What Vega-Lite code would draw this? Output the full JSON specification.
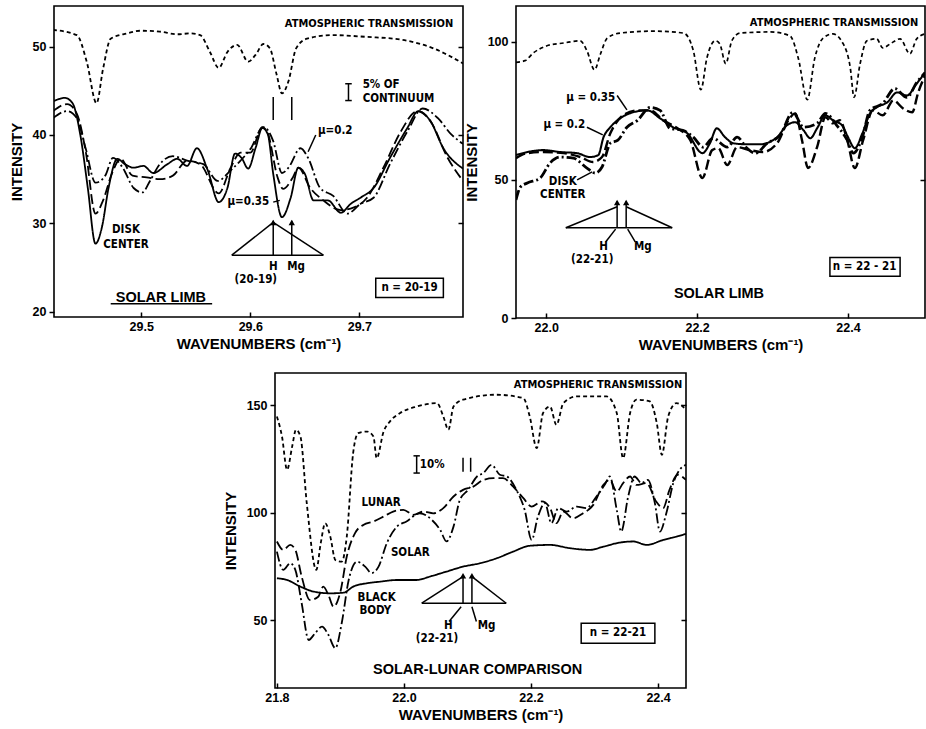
{
"$schema": "https://vega.github.io/schema/vega-lite/v6.json",
"padding": {"left": 8, "top": 5, "right": 0, "bottom": 0},
"background": "white",
"bounds": "flush",
"spacing": 367,
"resolve": {"scale": {"strokeDash": "independent", "strokeWidth": "independent"}},
"config": {
  "view": {"stroke": "black", "strokeWidth": 1.6},
  "axis": {"grid": false, "domain": false, "labelFont": "Liberation Sans", "labelFontSize": 12.5, "labelFontWeight": "bold", "labelColor": "black", "titleFont": "Liberation Sans", "titleFontSize": 15, "titleFontWeight": "bold", "titleColor": "black", "tickColor": "black", "tickWidth": 1.5}
},
"vconcat": [
 {"hconcat": [
  {
   "width": 409, "height": 311,
   "data": {"values": [{"x":0,"y":0}]},
   "encoding": {
     "x": {"field": "x", "type": "quantitative", "scale": {"domain": [29.42, 29.795], "nice": false, "zero": false}, "axis": {"values": [29.5, 29.6, 29.7], "format": ".1f", "tickSize": -5, "labelPadding": 8, "title": "WAVENUMBERS (cm⁻¹)", "titlePadding": 4}},
     "y": {"field": "y", "type": "quantitative", "scale": {"domain": [19.4, 54.6], "nice": false, "zero": false}, "axis": null}
   },
   "resolve": {"axis": {"y": "independent"}},
   "layer": [
    {
     "data": {"values": [
      {"s":"atm","x":29.419,"y":51.9},{"s":"atm","x":29.441,"y":51.3},{"s":"atm","x":29.450,"y":48.3},{"s":"atm","x":29.459,"y":43.6},{"s":"atm","x":29.465,"y":47.5},{"s":"atm","x":29.472,"y":50.9},{"s":"atm","x":29.487,"y":51.5},{"s":"atm","x":29.499,"y":51.8},{"s":"atm","x":29.517,"y":51.7},{"s":"atm","x":29.533,"y":51.4},{"s":"atm","x":29.545,"y":51.5},{"s":"atm","x":29.554,"y":51.3},{"s":"atm","x":29.563,"y":49.4},{"s":"atm","x":29.571,"y":47.6},{"s":"atm","x":29.579,"y":49.4},{"s":"atm","x":29.588,"y":50.2},{"s":"atm","x":29.598,"y":48.3},{"s":"atm","x":29.605,"y":49.1},{"s":"atm","x":29.612,"y":50.3},{"s":"atm","x":29.618,"y":49.8},{"s":"atm","x":29.624,"y":46.9},{"s":"atm","x":29.629,"y":44.7},{"s":"atm","x":29.635,"y":46.1},{"s":"atm","x":29.642,"y":49.8},{"s":"atm","x":29.652,"y":50.9},{"s":"atm","x":29.676,"y":51.3},{"s":"atm","x":29.707,"y":51.1},{"s":"atm","x":29.738,"y":50.8},{"s":"atm","x":29.768,"y":49.8},{"s":"atm","x":29.795,"y":48.1},
      {"s":"disk","x":29.419,"y":43.8},{"s":"disk","x":29.430,"y":44.2},{"s":"disk","x":29.437,"y":43.6},{"s":"disk","x":29.444,"y":40.1},{"s":"disk","x":29.451,"y":34.0},{"s":"disk","x":29.458,"y":27.7},{"s":"disk","x":29.464,"y":29.6},{"s":"disk","x":29.470,"y":34.0},{"s":"disk","x":29.478,"y":37.3},{"s":"disk","x":29.485,"y":36.7},{"s":"disk","x":29.493,"y":36.3},{"s":"disk","x":29.502,"y":36.5},{"s":"disk","x":29.511,"y":35.7},{"s":"disk","x":29.524,"y":36.7},{"s":"disk","x":29.533,"y":37.3},{"s":"disk","x":29.542,"y":36.5},{"s":"disk","x":29.551,"y":38.5},{"s":"disk","x":29.561,"y":36.0},{"s":"disk","x":29.571,"y":32.4},{"s":"disk","x":29.579,"y":34.0},{"s":"disk","x":29.586,"y":37.9},{"s":"disk","x":29.592,"y":37.4},{"s":"disk","x":29.598,"y":36.2},{"s":"disk","x":29.605,"y":38.6},{"s":"disk","x":29.611,"y":40.8},{"s":"disk","x":29.616,"y":40.1},{"s":"disk","x":29.621,"y":35.6},{"s":"disk","x":29.629,"y":30.7},{"s":"disk","x":29.637,"y":32.9},{"s":"disk","x":29.644,"y":36.3},{"s":"disk","x":29.650,"y":35.6},{"s":"disk","x":29.658,"y":32.6},{"s":"disk","x":29.671,"y":32.6},{"s":"disk","x":29.683,"y":31.2},{"s":"disk","x":29.692,"y":32.2},{"s":"disk","x":29.701,"y":32.9},{"s":"disk","x":29.713,"y":34.0},{"s":"disk","x":29.728,"y":37.4},{"s":"disk","x":29.744,"y":40.8},{"s":"disk","x":29.754,"y":42.7},{"s":"disk","x":29.765,"y":41.6},{"s":"disk","x":29.777,"y":38.5},{"s":"disk","x":29.795,"y":36.2},
      {"s":"mu035","x":29.419,"y":42.7},{"s":"mu035","x":29.432,"y":43.5},{"s":"mu035","x":29.441,"y":42.4},{"s":"mu035","x":29.449,"y":38.2},{"s":"mu035","x":29.458,"y":31.1},{"s":"mu035","x":29.465,"y":32.6},{"s":"mu035","x":29.473,"y":35.6},{"s":"mu035","x":29.481,"y":37.3},{"s":"mu035","x":29.492,"y":35.4},{"s":"mu035","x":29.505,"y":35.2},{"s":"mu035","x":29.517,"y":35.0},{"s":"mu035","x":29.529,"y":35.4},{"s":"mu035","x":29.542,"y":37.1},{"s":"mu035","x":29.554,"y":36.7},{"s":"mu035","x":29.571,"y":33.4},{"s":"mu035","x":29.582,"y":36.3},{"s":"mu035","x":29.591,"y":38.0},{"s":"mu035","x":29.600,"y":38.0},{"s":"mu035","x":29.611,"y":40.9},{"s":"mu035","x":29.616,"y":40.2},{"s":"mu035","x":29.625,"y":35.2},{"s":"mu035","x":29.630,"y":33.9},{"s":"mu035","x":29.639,"y":35.2},{"s":"mu035","x":29.644,"y":36.3},{"s":"mu035","x":29.655,"y":34.0},{"s":"mu035","x":29.667,"y":32.6},{"s":"mu035","x":29.683,"y":31.5},{"s":"mu035","x":29.695,"y":31.8},{"s":"mu035","x":29.707,"y":32.9},{"s":"mu035","x":29.722,"y":36.3},{"s":"mu035","x":29.738,"y":40.4},{"s":"mu035","x":29.753,"y":42.7},{"s":"mu035","x":29.765,"y":41.6},{"s":"mu035","x":29.781,"y":37.4},{"s":"mu035","x":29.795,"y":34.8},
      {"s":"mu02","x":29.419,"y":41.9},{"s":"mu02","x":29.432,"y":42.7},{"s":"mu02","x":29.441,"y":41.9},{"s":"mu02","x":29.449,"y":38.5},{"s":"mu02","x":29.458,"y":34.6},{"s":"mu02","x":29.467,"y":35.4},{"s":"mu02","x":29.474,"y":37.4},{"s":"mu02","x":29.483,"y":36.3},{"s":"mu02","x":29.493,"y":34.0},{"s":"mu02","x":29.501,"y":33.5},{"s":"mu02","x":29.508,"y":34.8},{"s":"mu02","x":29.517,"y":36.7},{"s":"mu02","x":29.529,"y":37.6},{"s":"mu02","x":29.542,"y":37.1},{"s":"mu02","x":29.557,"y":36.7},{"s":"mu02","x":29.570,"y":34.8},{"s":"mu02","x":29.582,"y":36.0},{"s":"mu02","x":29.591,"y":37.1},{"s":"mu02","x":29.600,"y":38.4},{"s":"mu02","x":29.612,"y":40.9},{"s":"mu02","x":29.621,"y":39.3},{"s":"mu02","x":29.629,"y":35.7},{"s":"mu02","x":29.635,"y":36.3},{"s":"mu02","x":29.646,"y":38.5},{"s":"mu02","x":29.653,"y":37.4},{"s":"mu02","x":29.664,"y":34.0},{"s":"mu02","x":29.676,"y":33.1},{"s":"mu02","x":29.689,"y":31.1},{"s":"mu02","x":29.701,"y":32.2},{"s":"mu02","x":29.713,"y":32.9},{"s":"mu02","x":29.728,"y":36.7},{"s":"mu02","x":29.744,"y":40.4},{"s":"mu02","x":29.758,"y":43.0},{"s":"mu02","x":29.772,"y":41.9},{"s":"mu02","x":29.784,"y":40.1},{"s":"mu02","x":29.795,"y":39.0}
     ]},
     "mark": {"type": "line", "interpolate": "monotone", "color": "black", "strokeWidth": 1.8, "clip": true},
     "encoding": {
       "y": {"field": "y", "type": "quantitative", "scale": {"domain": [19.4, 54.6], "nice": false, "zero": false}, "axis": {"orient": "left", "values": [20, 30, 40, 50], "tickSize": 5, "labelPadding": 3, "title": "INTENSITY", "titlePadding": 8}},
       "detail": {"field": "s"},
       "strokeDash": {"field": "s", "type": "nominal", "scale": {"domain": ["atm", "disk", "mu035", "mu02"], "range": [[4, 3], [1, 0], [10, 4], [10, 3, 2, 3]]}, "legend": null}
     }
    },
    {
     "data": {"values": [
      {"x":29.583,"y":26.4,"x2":29.621,"y2":30.1},{"x":29.621,"y":30.1,"x2":29.667,"y2":26.4},{"x":29.583,"y":26.4,"x2":29.667,"y2":26.4},
      {"x":29.621,"y":26.4,"x2":29.621,"y2":30.3},{"x":29.638,"y":26.4,"x2":29.638,"y2":30.3},
      {"x":29.621,"y":41.7,"x2":29.621,"y2":44.3},{"x":29.638,"y":41.7,"x2":29.638,"y2":44.3},
      {"x":29.690,"y":43.9,"x2":29.690,"y2":45.8},{"x":29.687,"y":43.9,"x2":29.693,"y2":43.9},{"x":29.687,"y":45.8,"x2":29.693,"y2":45.8},
      {"x":29.472,"y":20.9,"x2":29.565,"y2":20.9},
      {"x":29.621,"y":32.4,"x2":29.627,"y2":32.6},
      {"x":29.660,"y":40.0,"x2":29.653,"y2":38.1}
     ]},
     "mark": {"type": "rule", "color": "black", "strokeWidth": 1.5},
     "encoding": {"x2": {"field": "x2"}, "y2": {"field": "y2"}}
    },
    {
     "data": {"values": [{"x":29.621,"y":30.1},{"x":29.638,"y":30.1}]},
     "mark": {"type": "point", "shape": "triangle-up", "filled": true, "color": "black", "opacity": 1, "size": 40}
    },
    {
     "data": {"values": [{"x":29.715,"x2":29.777,"y":21.6,"y2":23.8}]},
     "mark": {"type": "rect", "fill": "white", "stroke": "black", "strokeWidth": 1.5},
     "encoding": {
       "x2": {"field": "x2"},
       "y": {"field": "y", "type": "quantitative", "scale": {"domain": [19.4, 54.6], "nice": false, "zero": false}, "axis": {"orient": "right", "values": [30, 40, 50], "labels": false, "title": null, "tickSize": -5}},
       "y2": {"field": "y2"}
     }
    },
    {
     "data": {"values": [{"x":29.786,"y":52.6,"t":"ATMOSPHERIC TRANSMISSION"}]},
     "mark": {"type": "text", "font": "DejaVu Sans Condensed, sans-serif", "fontSize": 11, "fontWeight": "bold", "align": "right", "baseline": "middle"},
     "encoding": {"text": {"field": "t"}}
    },
    {
     "data": {"values": [{"x":29.703,"y":45.7,"t":"5% OF"},{"x":29.703,"y":44.1,"t":"CONTINUUM"},{"x":29.662,"y":40.4,"t":"μ=0.2"},{"x":29.579,"y":32.4,"t":"μ=0.35"}]},
     "mark": {"type": "text", "font": "DejaVu Sans Condensed, sans-serif", "fontSize": 11.5, "fontWeight": "bold", "align": "left", "baseline": "middle"},
     "encoding": {"text": {"field": "t"}}
    },
    {
     "data": {"values": [{"x":29.486,"y":29.2,"t":"DISK"},{"x":29.486,"y":27.5,"t":"CENTER"},{"x":29.621,"y":25.1,"t":"H"},{"x":29.642,"y":25.1,"t":"Mg"},{"x":29.605,"y":23.6,"t":"(20-19)"},{"x":29.746,"y":22.7,"t":"n = 20-19"}]},
     "mark": {"type": "text", "font": "DejaVu Sans Condensed, sans-serif", "fontSize": 11.5, "fontWeight": "bold", "align": "center", "baseline": "middle"},
     "encoding": {"text": {"field": "t"}}
    },
    {
     "data": {"values": [{"x":29.518,"y":21.6,"t":"SOLAR LIMB"}]},
     "mark": {"type": "text", "font": "Liberation Sans", "fontSize": 14.5, "fontWeight": "bold", "align": "center", "baseline": "middle"},
     "encoding": {"text": {"field": "t"}}
    }
   ]
  },
  {
   "width": 409, "height": 312,
   "data": {"values": [{"x":0,"y":0}]},
   "encoding": {
     "x": {"field": "x", "type": "quantitative", "scale": {"domain": [21.96, 22.502], "nice": false, "zero": false}, "axis": {"values": [22.0, 22.2, 22.4], "format": ".1f", "tickSize": -5, "labelPadding": 8, "title": "WAVENUMBERS (cm⁻¹)", "titlePadding": 4}},
     "y": {"field": "y", "type": "quantitative", "scale": {"domain": [0, 113], "nice": false, "zero": false}, "axis": null}
   },
   "resolve": {"axis": {"y": "independent"}},
   "layer": [
    {
     "data": {"values": [
      {"s":"atm","x":21.960,"y":92.6},{"s":"atm","x":21.972,"y":93.2},{"s":"atm","x":21.983,"y":96.0},{"s":"atm","x":22.001,"y":98.6},{"s":"atm","x":22.023,"y":99.6},{"s":"atm","x":22.045,"y":100.4},{"s":"atm","x":22.054,"y":96.8},{"s":"atm","x":22.064,"y":89.9},{"s":"atm","x":22.072,"y":95.7},{"s":"atm","x":22.081,"y":101.4},{"s":"atm","x":22.098,"y":103.2},{"s":"atm","x":22.142,"y":103.9},{"s":"atm","x":22.182,"y":103.2},{"s":"atm","x":22.195,"y":96.8},{"s":"atm","x":22.205,"y":82.7},{"s":"atm","x":22.213,"y":94.2},{"s":"atm","x":22.224,"y":100.4},{"s":"atm","x":22.230,"y":99.3},{"s":"atm","x":22.238,"y":92.1},{"s":"atm","x":22.246,"y":100.4},{"s":"atm","x":22.257,"y":103.2},{"s":"atm","x":22.297,"y":103.6},{"s":"atm","x":22.323,"y":102.2},{"s":"atm","x":22.334,"y":94.2},{"s":"atm","x":22.346,"y":79.1},{"s":"atm","x":22.356,"y":94.2},{"s":"atm","x":22.367,"y":101.4},{"s":"atm","x":22.380,"y":102.9},{"s":"atm","x":22.393,"y":99.6},{"s":"atm","x":22.403,"y":90.6},{"s":"atm","x":22.408,"y":79.9},{"s":"atm","x":22.416,"y":92.1},{"s":"atm","x":22.425,"y":100.4},{"s":"atm","x":22.438,"y":101.1},{"s":"atm","x":22.446,"y":97.8},{"s":"atm","x":22.456,"y":99.3},{"s":"atm","x":22.469,"y":101.1},{"s":"atm","x":22.482,"y":95.7},{"s":"atm","x":22.491,"y":101.1},{"s":"atm","x":22.502,"y":102.9},
      {"s":"mu02","x":21.960,"y":59.0},{"s":"mu02","x":21.975,"y":60.1},{"s":"mu02","x":21.996,"y":60.8},{"s":"mu02","x":22.019,"y":60.1},{"s":"mu02","x":22.041,"y":59.7},{"s":"mu02","x":22.058,"y":58.3},{"s":"mu02","x":22.069,"y":59.0},{"s":"mu02","x":22.076,"y":65.5},{"s":"mu02","x":22.085,"y":69.1},{"s":"mu02","x":22.098,"y":72.3},{"s":"mu02","x":22.115,"y":74.5},{"s":"mu02","x":22.134,"y":75.2},{"s":"mu02","x":22.151,"y":72.3},{"s":"mu02","x":22.168,"y":69.1},{"s":"mu02","x":22.187,"y":66.9},{"s":"mu02","x":22.207,"y":59.7},{"s":"mu02","x":22.217,"y":63.3},{"s":"mu02","x":22.226,"y":68.7},{"s":"mu02","x":22.237,"y":65.5},{"s":"mu02","x":22.248,"y":63.3},{"s":"mu02","x":22.266,"y":62.9},{"s":"mu02","x":22.283,"y":62.9},{"s":"mu02","x":22.306,"y":65.5},{"s":"mu02","x":22.319,"y":69.8},{"s":"mu02","x":22.330,"y":70.9},{"s":"mu02","x":22.341,"y":68.0},{"s":"mu02","x":22.350,"y":65.1},{"s":"mu02","x":22.359,"y":68.7},{"s":"mu02","x":22.370,"y":73.4},{"s":"mu02","x":22.380,"y":71.6},{"s":"mu02","x":22.392,"y":69.8},{"s":"mu02","x":22.400,"y":65.5},{"s":"mu02","x":22.409,"y":61.5},{"s":"mu02","x":22.419,"y":66.9},{"s":"mu02","x":22.429,"y":74.1},{"s":"mu02","x":22.438,"y":76.3},{"s":"mu02","x":22.452,"y":78.1},{"s":"mu02","x":22.465,"y":81.7},{"s":"mu02","x":22.478,"y":80.6},{"s":"mu02","x":22.491,"y":84.9},{"s":"mu02","x":22.502,"y":88.8},
      {"s":"mu035","x":21.960,"y":57.9},{"s":"mu035","x":21.975,"y":59.7},{"s":"mu035","x":21.996,"y":60.1},{"s":"mu035","x":22.023,"y":59.7},{"s":"mu035","x":22.045,"y":58.3},{"s":"mu035","x":22.062,"y":56.5},{"s":"mu035","x":22.074,"y":58.3},{"s":"mu035","x":22.085,"y":66.9},{"s":"mu035","x":22.102,"y":73.4},{"s":"mu035","x":22.121,"y":75.2},{"s":"mu035","x":22.138,"y":75.2},{"s":"mu035","x":22.155,"y":71.6},{"s":"mu035","x":22.174,"y":68.7},{"s":"mu035","x":22.191,"y":64.4},{"s":"mu035","x":22.207,"y":50.7},{"s":"mu035","x":22.220,"y":60.8},{"s":"mu035","x":22.228,"y":61.5},{"s":"mu035","x":22.240,"y":55.4},{"s":"mu035","x":22.253,"y":61.9},{"s":"mu035","x":22.270,"y":60.8},{"s":"mu035","x":22.287,"y":60.1},{"s":"mu035","x":22.306,"y":63.3},{"s":"mu035","x":22.321,"y":71.6},{"s":"mu035","x":22.330,"y":74.1},{"s":"mu035","x":22.339,"y":64.4},{"s":"mu035","x":22.347,"y":54.3},{"s":"mu035","x":22.359,"y":61.9},{"s":"mu035","x":22.370,"y":72.7},{"s":"mu035","x":22.380,"y":70.5},{"s":"mu035","x":22.389,"y":71.6},{"s":"mu035","x":22.399,"y":64.4},{"s":"mu035","x":22.409,"y":54.3},{"s":"mu035","x":22.420,"y":64.4},{"s":"mu035","x":22.433,"y":75.2},{"s":"mu035","x":22.446,"y":73.4},{"s":"mu035","x":22.460,"y":78.8},{"s":"mu035","x":22.473,"y":75.9},{"s":"mu035","x":22.485,"y":74.5},{"s":"mu035","x":22.493,"y":81.7},{"s":"mu035","x":22.502,"y":87.8},
      {"s":"disk","x":21.960,"y":42.8},{"s":"disk","x":21.966,"y":47.5},{"s":"disk","x":21.975,"y":48.9},{"s":"disk","x":21.992,"y":50.7},{"s":"disk","x":22.005,"y":56.1},{"s":"disk","x":22.019,"y":58.3},{"s":"disk","x":22.036,"y":57.9},{"s":"disk","x":22.054,"y":54.3},{"s":"disk","x":22.065,"y":52.5},{"s":"disk","x":22.074,"y":54.7},{"s":"disk","x":22.085,"y":63.3},{"s":"disk","x":22.095,"y":64.4},{"s":"disk","x":22.107,"y":69.1},{"s":"disk","x":22.121,"y":71.6},{"s":"disk","x":22.138,"y":76.3},{"s":"disk","x":22.151,"y":75.2},{"s":"disk","x":22.164,"y":68.7},{"s":"disk","x":22.181,"y":68.0},{"s":"disk","x":22.195,"y":65.5},{"s":"disk","x":22.208,"y":61.9},{"s":"disk","x":22.221,"y":65.1},{"s":"disk","x":22.240,"y":61.9},{"s":"disk","x":22.253,"y":65.5},{"s":"disk","x":22.266,"y":61.5},{"s":"disk","x":22.277,"y":59.7},{"s":"disk","x":22.293,"y":63.3},{"s":"disk","x":22.310,"y":66.2},{"s":"disk","x":22.327,"y":74.5},{"s":"disk","x":22.341,"y":69.1},{"s":"disk","x":22.359,"y":70.5},{"s":"disk","x":22.370,"y":74.1},{"s":"disk","x":22.385,"y":69.8},{"s":"disk","x":22.399,"y":64.4},{"s":"disk","x":22.407,"y":59.7},{"s":"disk","x":22.419,"y":65.5},{"s":"disk","x":22.429,"y":75.2},{"s":"disk","x":22.446,"y":77.7},{"s":"disk","x":22.462,"y":83.1},{"s":"disk","x":22.478,"y":79.9},{"s":"disk","x":22.491,"y":85.3},{"s":"disk","x":22.502,"y":88.8}
     ]},
     "mark": {"type": "line", "interpolate": "monotone", "color": "black", "clip": true},
     "encoding": {
       "y": {"field": "y", "type": "quantitative", "scale": {"domain": [0, 113], "nice": false, "zero": false}, "axis": {"orient": "left", "values": [0, 50, 100], "tickSize": 5, "labelPadding": 3, "title": "INTENSITY", "titlePadding": 8}},
       "detail": {"field": "s"},
       "strokeDash": {"field": "s", "type": "nominal", "scale": {"domain": ["atm", "mu02", "mu035", "disk"], "range": [[4, 3], [1, 0], [10, 4], [10, 3, 2, 3]]}, "legend": null},
       "strokeWidth": {"field": "s", "type": "nominal", "scale": {"domain": ["atm", "mu02", "mu035", "disk"], "range": [1.7, 2.8, 1.9, 1.7]}, "legend": null}
     }
    },
    {
     "data": {"values": [
      {"x":22.026,"y":32.7,"x2":22.094,"y2":40.3},{"x":22.106,"y":40.3,"x2":22.167,"y2":32.7},{"x":22.026,"y":32.7,"x2":22.167,"y2":32.7},
      {"x":22.094,"y":32.7,"x2":22.094,"y2":42.3},{"x":22.106,"y":32.7,"x2":22.106,"y2":42.3},
      {"x":22.079,"y":27.6,"x2":22.092,"y2":32.2},{"x":22.118,"y":27.6,"x2":22.108,"y2":32.2},
      {"x":22.094,"y":80.6,"x2":22.107,"y2":75.4},
      {"x":22.054,"y":69.1,"x2":22.075,"y2":66.3},
      {"x":22.041,"y":50.0,"x2":22.061,"y2":52.9}
     ]},
     "mark": {"type": "rule", "color": "black", "strokeWidth": 1.5},
     "encoding": {"x2": {"field": "x2"}, "y2": {"field": "y2"}}
    },
    {
     "data": {"values": [{"x":22.094,"y":41.8},{"x":22.106,"y":41.8}]},
     "mark": {"type": "point", "shape": "triangle-up", "filled": true, "color": "black", "opacity": 1, "size": 40}
    },
    {
     "data": {"values": [{"x":22.376,"x2":22.469,"y":15.1,"y2":21.9}]},
     "mark": {"type": "rect", "fill": "white", "stroke": "black", "strokeWidth": 1.5},
     "encoding": {
       "x2": {"field": "x2"},
       "y": {"field": "y", "type": "quantitative", "scale": {"domain": [0, 113], "nice": false, "zero": false}, "axis": {"orient": "right", "values": [50], "labels": false, "title": null, "tickSize": -5}},
       "y2": {"field": "y2"}
     }
    },
    {
     "data": {"values": [{"x":22.493,"y":106.8,"t":"ATMOSPHERIC TRANSMISSION"}]},
     "mark": {"type": "text", "font": "DejaVu Sans Condensed, sans-serif", "fontSize": 11, "fontWeight": "bold", "align": "right", "baseline": "middle"},
     "encoding": {"text": {"field": "t"}}
    },
    {
     "data": {"values": [{"x":22.059,"y":79.5,"t":"μ = 0.35"},{"x":22.024,"y":69.8,"t":"μ = 0.2"},{"x":22.022,"y":49.3,"t":"DISK"},{"x":22.022,"y":44.6,"t":"CENTER"},{"x":22.076,"y":25.7,"t":"H"},{"x":22.128,"y":25.7,"t":"Mg"},{"x":22.061,"y":21.0,"t":"(22-21)"},{"x":22.422,"y":18.5,"t":"n = 22 - 21"}]},
     "mark": {"type": "text", "font": "DejaVu Sans Condensed, sans-serif", "fontSize": 11.5, "fontWeight": "bold", "align": "center", "baseline": "middle"},
     "encoding": {"text": {"field": "t"}}
    },
    {
     "data": {"values": [{"x":22.229,"y":8.6,"t":"SOLAR LIMB"}]},
     "mark": {"type": "text", "font": "Liberation Sans", "fontSize": 14.5, "fontWeight": "bold", "align": "center", "baseline": "middle"},
     "encoding": {"text": {"field": "t"}}
    }
   ]
  }
 ], "spacing": 53, "bounds": "flush", "resolve": {"scale": {"strokeDash": "independent", "strokeWidth": "independent"}}},
 {"hconcat": [
  {"width": 221, "height": 10, "data": {"values": []}, "mark": "point", "view": {"stroke": null}},
  {
   "width": 411, "height": 315,
   "data": {"values": [{"x":0,"y":0}]},
   "encoding": {
     "x": {"field": "x", "type": "quantitative", "scale": {"domain": [21.797, 22.444], "nice": false, "zero": false}, "axis": {"values": [21.8, 22.0, 22.2, 22.4], "format": ".1f", "tickSize": -5, "labelPadding": 8, "title": "WAVENUMBERS (cm⁻¹)", "titlePadding": 4}},
     "y": {"field": "y", "type": "quantitative", "scale": {"domain": [18.6, 165], "nice": false, "zero": false}, "axis": null}
   },
   "resolve": {"axis": {"y": "independent"}},
   "layer": [
    {
     "data": {"values": [
      {"s":"atm","x":21.800,"y":144.8},{"s":"atm","x":21.808,"y":135.5},{"s":"atm","x":21.816,"y":120.0},{"s":"atm","x":21.824,"y":130.8},{"s":"atm","x":21.830,"y":138.6},{"s":"atm","x":21.837,"y":135.5},{"s":"atm","x":21.847,"y":104.5},{"s":"atm","x":21.862,"y":73.5},{"s":"atm","x":21.869,"y":85.9},{"s":"atm","x":21.876,"y":95.2},{"s":"atm","x":21.884,"y":89.0},{"s":"atm","x":21.892,"y":78.1},{"s":"atm","x":21.902,"y":77.3},{"s":"atm","x":21.910,"y":89.0},{"s":"atm","x":21.920,"y":127.8},{"s":"atm","x":21.928,"y":137.1},{"s":"atm","x":21.942,"y":137.8},{"s":"atm","x":21.952,"y":135.5},{"s":"atm","x":21.957,"y":125.4},{"s":"atm","x":21.968,"y":137.8},{"s":"atm","x":21.978,"y":142.5},{"s":"atm","x":21.994,"y":146.4},{"s":"atm","x":22.020,"y":149.4},{"s":"atm","x":22.052,"y":151.0},{"s":"atm","x":22.062,"y":144.8},{"s":"atm","x":22.070,"y":138.6},{"s":"atm","x":22.078,"y":149.4},{"s":"atm","x":22.093,"y":152.6},{"s":"atm","x":22.146,"y":154.9},{"s":"atm","x":22.188,"y":153.3},{"s":"atm","x":22.198,"y":144.8},{"s":"atm","x":22.209,"y":130.1},{"s":"atm","x":22.219,"y":146.4},{"s":"atm","x":22.230,"y":149.4},{"s":"atm","x":22.240,"y":140.9},{"s":"atm","x":22.251,"y":151.0},{"s":"atm","x":22.272,"y":154.1},{"s":"atm","x":22.319,"y":154.1},{"s":"atm","x":22.335,"y":146.4},{"s":"atm","x":22.345,"y":125.4},{"s":"atm","x":22.356,"y":146.4},{"s":"atm","x":22.366,"y":152.6},{"s":"atm","x":22.387,"y":151.8},{"s":"atm","x":22.398,"y":141.7},{"s":"atm","x":22.406,"y":127.0},{"s":"atm","x":22.416,"y":144.8},{"s":"atm","x":22.429,"y":151.0},{"s":"atm","x":22.444,"y":147.9},
      {"s":"lunar","x":21.800,"y":86.7},{"s":"lunar","x":21.810,"y":82.8},{"s":"lunar","x":21.821,"y":85.1},{"s":"lunar","x":21.829,"y":82.8},{"s":"lunar","x":21.839,"y":70.4},{"s":"lunar","x":21.852,"y":59.5},{"s":"lunar","x":21.865,"y":61.0},{"s":"lunar","x":21.873,"y":65.7},{"s":"lunar","x":21.881,"y":61.9},{"s":"lunar","x":21.889,"y":56.4},{"s":"lunar","x":21.900,"y":63.4},{"s":"lunar","x":21.910,"y":79.7},{"s":"lunar","x":21.923,"y":90.6},{"s":"lunar","x":21.936,"y":94.4},{"s":"lunar","x":21.952,"y":96.0},{"s":"lunar","x":21.968,"y":98.3},{"s":"lunar","x":21.983,"y":100.6},{"s":"lunar","x":21.999,"y":101.4},{"s":"lunar","x":22.015,"y":99.1},{"s":"lunar","x":22.031,"y":100.6},{"s":"lunar","x":22.046,"y":99.8},{"s":"lunar","x":22.062,"y":102.2},{"s":"lunar","x":22.078,"y":107.6},{"s":"lunar","x":22.093,"y":110.7},{"s":"lunar","x":22.109,"y":112.2},{"s":"lunar","x":22.125,"y":115.3},{"s":"lunar","x":22.141,"y":116.1},{"s":"lunar","x":22.156,"y":116.1},{"s":"lunar","x":22.172,"y":112.2},{"s":"lunar","x":22.188,"y":106.8},{"s":"lunar","x":22.201,"y":102.9},{"s":"lunar","x":22.217,"y":105.3},{"s":"lunar","x":22.230,"y":102.2},{"s":"lunar","x":22.240,"y":95.2},{"s":"lunar","x":22.251,"y":100.6},{"s":"lunar","x":22.266,"y":97.5},{"s":"lunar","x":22.282,"y":99.8},{"s":"lunar","x":22.298,"y":103.7},{"s":"lunar","x":22.314,"y":113.0},{"s":"lunar","x":22.324,"y":115.3},{"s":"lunar","x":22.335,"y":109.9},{"s":"lunar","x":22.345,"y":113.8},{"s":"lunar","x":22.356,"y":116.9},{"s":"lunar","x":22.366,"y":113.0},{"s":"lunar","x":22.382,"y":113.8},{"s":"lunar","x":22.397,"y":105.3},{"s":"lunar","x":22.408,"y":102.2},{"s":"lunar","x":22.418,"y":110.7},{"s":"lunar","x":22.431,"y":117.7},{"s":"lunar","x":22.444,"y":115.3},
      {"s":"solar","x":21.800,"y":82.0},{"s":"solar","x":21.810,"y":73.5},{"s":"solar","x":21.821,"y":76.6},{"s":"solar","x":21.829,"y":73.5},{"s":"solar","x":21.839,"y":58.0},{"s":"solar","x":21.850,"y":40.9},{"s":"solar","x":21.860,"y":44.0},{"s":"solar","x":21.871,"y":47.1},{"s":"solar","x":21.881,"y":43.3},{"s":"solar","x":21.892,"y":37.1},{"s":"solar","x":21.902,"y":48.7},{"s":"solar","x":21.913,"y":68.8},{"s":"solar","x":21.926,"y":77.3},{"s":"solar","x":21.939,"y":75.0},{"s":"solar","x":21.949,"y":72.0},{"s":"solar","x":21.960,"y":75.0},{"s":"solar","x":21.973,"y":85.9},{"s":"solar","x":21.989,"y":93.6},{"s":"solar","x":22.004,"y":96.0},{"s":"solar","x":22.025,"y":99.8},{"s":"solar","x":22.044,"y":96.7},{"s":"solar","x":22.057,"y":92.1},{"s":"solar","x":22.067,"y":86.7},{"s":"solar","x":22.078,"y":93.6},{"s":"solar","x":22.088,"y":106.0},{"s":"solar","x":22.101,"y":110.7},{"s":"solar","x":22.115,"y":116.9},{"s":"solar","x":22.125,"y":118.5},{"s":"solar","x":22.138,"y":122.3},{"s":"solar","x":22.151,"y":117.7},{"s":"solar","x":22.162,"y":116.9},{"s":"solar","x":22.177,"y":110.7},{"s":"solar","x":22.190,"y":101.4},{"s":"solar","x":22.201,"y":87.4},{"s":"solar","x":22.211,"y":98.3},{"s":"solar","x":22.222,"y":104.5},{"s":"solar","x":22.232,"y":95.2},{"s":"solar","x":22.243,"y":102.2},{"s":"solar","x":22.256,"y":100.6},{"s":"solar","x":22.272,"y":102.9},{"s":"solar","x":22.287,"y":102.2},{"s":"solar","x":22.303,"y":107.6},{"s":"solar","x":22.316,"y":113.0},{"s":"solar","x":22.324,"y":116.9},{"s":"solar","x":22.335,"y":101.4},{"s":"solar","x":22.342,"y":91.3},{"s":"solar","x":22.353,"y":107.6},{"s":"solar","x":22.363,"y":116.9},{"s":"solar","x":22.374,"y":113.8},{"s":"solar","x":22.384,"y":115.3},{"s":"solar","x":22.395,"y":104.5},{"s":"solar","x":22.403,"y":91.3},{"s":"solar","x":22.413,"y":99.8},{"s":"solar","x":22.424,"y":113.8},{"s":"solar","x":22.434,"y":120.0},{"s":"solar","x":22.444,"y":122.3},
      {"s":"bb","x":21.800,"y":69.6},{"s":"bb","x":21.816,"y":68.8},{"s":"bb","x":21.837,"y":65.7},{"s":"bb","x":21.858,"y":63.4},{"s":"bb","x":21.884,"y":62.6},{"s":"bb","x":21.905,"y":62.9},{"s":"bb","x":21.920,"y":65.7},{"s":"bb","x":21.942,"y":67.3},{"s":"bb","x":21.962,"y":68.0},{"s":"bb","x":21.989,"y":68.8},{"s":"bb","x":22.020,"y":68.8},{"s":"bb","x":22.041,"y":70.4},{"s":"bb","x":22.067,"y":72.7},{"s":"bb","x":22.093,"y":75.0},{"s":"bb","x":22.120,"y":76.6},{"s":"bb","x":22.146,"y":78.9},{"s":"bb","x":22.172,"y":82.0},{"s":"bb","x":22.198,"y":84.7},{"s":"bb","x":22.230,"y":85.1},{"s":"bb","x":22.261,"y":83.6},{"s":"bb","x":22.293,"y":82.8},{"s":"bb","x":22.314,"y":84.3},{"s":"bb","x":22.340,"y":86.2},{"s":"bb","x":22.361,"y":86.7},{"s":"bb","x":22.382,"y":85.1},{"s":"bb","x":22.408,"y":87.4},{"s":"bb","x":22.429,"y":89.0},{"s":"bb","x":22.444,"y":90.2}
     ]},
     "mark": {"type": "line", "interpolate": "monotone", "color": "black", "strokeWidth": 1.8, "clip": true},
     "encoding": {
       "y": {"field": "y", "type": "quantitative", "scale": {"domain": [18.6, 165], "nice": false, "zero": false}, "axis": {"orient": "left", "values": [50, 100, 150], "tickSize": 5, "labelPadding": 3, "title": "INTENSITY", "titlePadding": 8}},
       "detail": {"field": "s"},
       "strokeDash": {"field": "s", "type": "nominal", "scale": {"domain": ["atm", "bb", "lunar", "solar"], "range": [[4, 3], [1, 0], [10, 4], [10, 3, 2, 3]]}, "legend": null}
     }
    },
    {
     "data": {"values": [
      {"x":22.028,"y":58.0,"x2":22.093,"y2":70.4},{"x":22.107,"y":70.4,"x2":22.161,"y2":58.0},{"x":22.028,"y":58.0,"x2":22.161,"y2":58.0},
      {"x":22.093,"y":58.0,"x2":22.093,"y2":71.0},{"x":22.107,"y":58.0,"x2":22.107,"y2":71.0},
      {"x":22.071,"y":49.5,"x2":22.090,"y2":56.4},{"x":22.114,"y":49.5,"x2":22.107,"y2":56.4},
      {"x":22.020,"y":118.5,"x2":22.020,"y2":126.5},{"x":22.015,"y":118.5,"x2":22.025,"y2":118.5},{"x":22.015,"y":126.5,"x2":22.025,"y2":126.5},
      {"x":22.093,"y":119.1,"x2":22.093,"y2":125.6},{"x":22.105,"y":119.1,"x2":22.105,"y2":125.6}
     ]},
     "mark": {"type": "rule", "color": "black", "strokeWidth": 1.5},
     "encoding": {"x2": {"field": "x2"}, "y2": {"field": "y2"}}
    },
    {
     "data": {"values": [{"x":22.093,"y":70.8},{"x":22.107,"y":70.8}]},
     "mark": {"type": "point", "shape": "triangle-up", "filled": true, "color": "black", "opacity": 1, "size": 40}
    },
    {
     "data": {"values": [{"x":22.279,"x2":22.395,"y":39.4,"y2":48.7}]},
     "mark": {"type": "rect", "fill": "white", "stroke": "black", "strokeWidth": 1.5},
     "encoding": {
       "x2": {"field": "x2"},
       "y": {"field": "y", "type": "quantitative", "scale": {"domain": [18.6, 165], "nice": false, "zero": false}, "axis": {"orient": "right", "values": [50, 100, 150], "labels": false, "title": null, "tickSize": -5}},
       "y2": {"field": "y2"}
     }
    },
    {
     "data": {"values": [{"x":22.438,"y":159.5,"t":"ATMOSPHERIC TRANSMISSION"}]},
     "mark": {"type": "text", "font": "DejaVu Sans Condensed, sans-serif", "fontSize": 11, "fontWeight": "bold", "align": "right", "baseline": "middle"},
     "encoding": {"text": {"field": "t"}}
    },
    {
     "data": {"values": [{"x":22.025,"y":122.3,"t":"10%"}]},
     "mark": {"type": "text", "font": "DejaVu Sans Condensed, sans-serif", "fontSize": 11.5, "fontWeight": "bold", "align": "left", "baseline": "middle"},
     "encoding": {"text": {"field": "t"}}
    },
    {
     "data": {"values": [{"x":21.964,"y":104.7,"t":"LUNAR"},{"x":22.010,"y":81.4,"t":"SOLAR"},{"x":21.957,"y":60.5,"t":"BLACK"},{"x":21.955,"y":54.4,"t":"BODY"},{"x":22.070,"y":47.5,"t":"H"},{"x":22.130,"y":47.5,"t":"Mg"},{"x":22.052,"y":41.3,"t":"(22-21)"},{"x":22.337,"y":44.0,"t":"n = 22-21"}]},
     "mark": {"type": "text", "font": "DejaVu Sans Condensed, sans-serif", "fontSize": 11.5, "fontWeight": "bold", "align": "center", "baseline": "middle"},
     "encoding": {"text": {"field": "t"}}
    },
    {
     "data": {"values": [{"x":22.116,"y":27.0,"t":"SOLAR-LUNAR COMPARISON"}]},
     "mark": {"type": "text", "font": "Liberation Sans", "fontSize": 14.5, "fontWeight": "bold", "align": "center", "baseline": "middle"},
     "encoding": {"text": {"field": "t"}}
    }
   ]
  }
 ], "spacing": 0, "bounds": "flush", "resolve": {"scale": {"strokeDash": "independent", "strokeWidth": "independent"}}}
]
}
